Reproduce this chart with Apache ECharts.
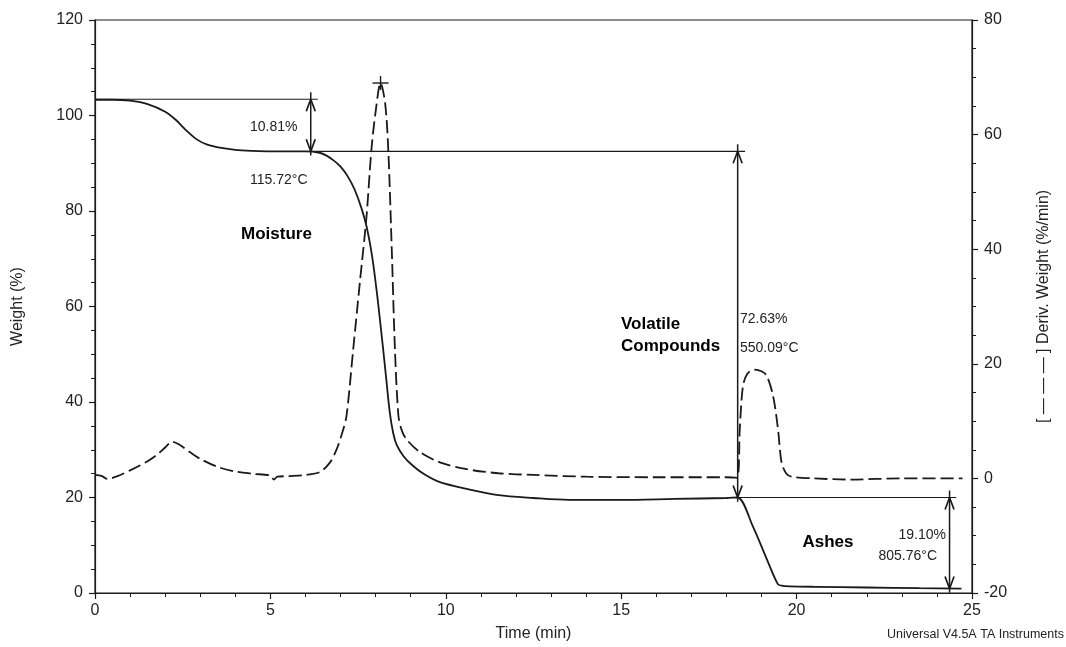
<!DOCTYPE html>
<html>
<head>
<meta charset="utf-8">
<script src="https://cdn.jsdelivr.net/npm/echarts@6/dist/echarts.min.js"></script>
<style>
html,body{margin:0;padding:0;background:#fff;}
#chart{width:1066px;height:647px;}
</style>
</head>
<body>
<div id="chart"></div>
<script>
// ---- data ----
const weightTime = [0, 0.5, 1.0, 1.5, 2.0, 2.3, 2.6, 2.9, 3.2, 3.6, 4.0, 4.5, 5.0, 5.5, 6.0, 6.4, 6.6, 6.8, 7.0, 7.2, 7.4, 7.6, 7.75, 7.9, 8.05, 8.2, 8.3, 8.4, 8.5, 8.6, 8.8, 9.07, 9.4, 9.83, 10.6, 11.5, 12.5, 13.5, 15.0, 16.5, 18.0, 18.32, 18.75, 19.15, 19.47, 19.6, 19.8, 20.5, 22.0, 23.5, 24.7];
const weightValues = [103.3, 103.3, 103.1, 102.4, 100.8, 99.1, 96.9, 95.0, 93.9, 93.2, 92.8, 92.6, 92.5, 92.5, 92.5, 92.2, 91.6, 90.6, 89.3, 87.3, 84.5, 80.5, 76.5, 70.5, 62.0, 52.0, 45.0, 38.0, 33.5, 31.0, 28.6, 26.6, 24.8, 23.2, 21.8, 20.5, 19.9, 19.5, 19.5, 19.7, 19.9, 20.0, 14.0, 7.1, 1.8, 1.5, 1.4, 1.3, 1.15, 1.0, 0.9];

const derivTime = [0, 0.2, 0.35, 0.6, 1.0, 1.5, 1.8, 2.0, 2.2, 2.4, 2.7, 3.0, 3.5, 4.0, 4.5, 5.0, 5.1, 5.2, 5.5, 6.0, 6.41, 6.7, 6.89, 7.05, 7.17, 7.36, 7.55, 7.74, 7.88, 8.0, 8.14, 8.27, 8.36, 8.46, 8.55, 8.65, 8.75, 8.88, 9.26, 9.83, 10.6, 11.5, 12.5, 14, 16, 18.0, 18.3, 18.38, 18.47, 18.6, 18.8, 19.0, 19.15, 19.33, 19.47, 19.57, 19.7, 19.85, 20.5, 21.5, 23, 24.73];
const derivValues = [0.6, 0.4, -0.1, 0.3, 1.4, 3.0, 4.3, 5.4, 6.4, 5.9, 4.6, 3.4, 2.0, 1.2, 0.8, 0.5, -0.2, 0.3, 0.4, 0.6, 1.1, 2.8, 5.1, 8.0, 10.9, 22.5, 34.2, 45.7, 57.4, 64.0, 69.0, 65.5, 57.4, 39.9, 22.5, 10.9, 8.3, 6.8, 4.6, 2.8, 1.6, 0.9, 0.6, 0.3, 0.2, 0.2, 0.1, 8.6, 16.1, 18.3, 19.0, 18.7, 17.9, 14.4, 8.6, 2.8, 0.9, 0.3, 0.0, -0.2, 0.0, 0.0];

// step annotations
const stepTimes = [6.15, 18.32, 24.36];
const stepUpper = [103.4, 92.5, 20.0];
const stepLower = [92.5, 20.0, 0.95];
const levelStart = [0, 6.15, 18.32];
const levelEnd = [6.35, 18.53, 24.55];
const peakMarker = [8.14, 69.0];

const xTicks = {min: 0, max: 25, interval: 5};
const leftTicks = {min: 0, max: 120, interval: 20};
const rightTicks = {min: -20, max: 80, interval: 20};

const FONT = '"Liberation Sans", Arial, sans-serif';
const INK = '#1a1a1a';
const TXT = '#222';

const weightData = weightTime.map((t, i) => [t, weightValues[i]]);
const derivData = derivTime.map((t, i) => [t, derivValues[i]]);
const stepData = stepTimes.map((t, i) => [t, stepUpper[i], stepLower[i], levelStart[i], levelEnd[i]]);

function seg(x1, y1, x2, y2, w) {
  return {type: 'line', shape: {x1, y1, x2, y2}, style: {stroke: INK, lineWidth: w || 1.3}, silent: true};
}

function renderStep(params, api) {
  const t = api.value(0), up = api.value(1), lo = api.value(2), s = api.value(3), e = api.value(4);
  const pTop = api.coord([t, up]);
  const pBot = api.coord([t, lo]);
  const pStart = api.coord([s, up]);
  const pEnd = api.coord([e, up]);
  const ext = 7;
  const ah = 12, aw = 4.5;
  return {
    type: 'group',
    children: [
      seg(pStart[0], pStart[1], pEnd[0], pEnd[1], 1.2),
      seg(pTop[0], pTop[1] - ext, pBot[0], pBot[1] + ext * 0.6, 1.5),
      seg(pTop[0], pTop[1], pTop[0] - aw, pTop[1] + ah, 1.7),
      seg(pTop[0], pTop[1], pTop[0] + aw, pTop[1] + ah, 1.7),
      seg(pBot[0], pBot[1], pBot[0] - aw, pBot[1] - ah, 1.7),
      seg(pBot[0], pBot[1], pBot[0] + aw, pBot[1] - ah, 1.7)
    ]
  };
}

function renderStar(params, api) {
  const p = api.coord([api.value(0), api.value(1)]);
  return {
    type: 'group',
    children: [
      seg(p[0] - 8, p[1], p[0] + 8, p[1], 1.4),
      seg(p[0], p[1] - 7, p[0], p[1] + 7, 1.4)
    ]
  };
}

const chart = echarts.init(document.getElementById('chart'), null, {renderer: 'canvas'});

const axisLine = {show: true, lineStyle: {color: INK, width: 1.2}};
const axisTick = {show: true, inside: false, length: 6, lineStyle: {color: INK, width: 1.2}};
const minorTick = {show: true, length: 4, lineStyle: {color: INK, width: 1}};
const axisLabel = {color: TXT, fontSize: 16, fontFamily: FONT, margin: 12};

chart.setOption({
  backgroundColor: '#fff',
  animation: false,
  grid: {left: 95, right: 94, top: 20, bottom: 53, show: true, borderColor: INK, borderWidth: 1.2, backgroundColor: 'transparent'},
  xAxis: {
    type: 'value', min: xTicks.min, max: xTicks.max, interval: xTicks.interval,
    name: 'Time (min)', nameLocation: 'middle', nameGap: 33,
    nameTextStyle: {color: TXT, fontSize: 16, fontFamily: FONT},
    axisLine, axisTick, minorTick: Object.assign({splitNumber: 5}, minorTick),
    axisLabel: Object.assign({}, axisLabel, {margin: 10}),
    splitLine: {show: false}, minorSplitLine: {show: false}
  },
  yAxis: [
    {
      type: 'value', position: 'left', min: leftTicks.min, max: leftTicks.max, interval: leftTicks.interval,
      name: 'Weight (%)', nameLocation: 'middle', nameGap: 69, nameRotate: 90,
      nameTextStyle: {color: TXT, fontSize: 16, fontFamily: FONT},
      axisLine, axisTick, minorTick: Object.assign({splitNumber: 4}, minorTick),
      axisLabel, splitLine: {show: false}, minorSplitLine: {show: false}
    },
    {
      type: 'value', position: 'right', min: rightTicks.min, max: rightTicks.max, interval: rightTicks.interval,
      name: '[ — — — ] Deriv. Weight (%/min)', nameLocation: 'middle', nameGap: 64, nameRotate: 90,
      nameTextStyle: {color: TXT, fontSize: 16, fontFamily: FONT},
      axisLine, axisTick, minorTick: Object.assign({splitNumber: 4}, minorTick),
      axisLabel, splitLine: {show: false}, minorSplitLine: {show: false}
    }
  ],
  series: [
    {
      type: 'line', name: 'Weight', yAxisIndex: 0, data: weightData, showSymbol: false, smooth: 0.3,
      lineStyle: {color: INK, width: 1.8}, z: 3
    },
    {
      type: 'line', name: 'Deriv. Weight', yAxisIndex: 1, data: derivData, showSymbol: false, smooth: 0.3,
      lineStyle: {color: INK, width: 1.8, type: [13, 5]}, z: 3
    },
    {
      type: 'custom', name: 'steps', yAxisIndex: 0, data: stepData, renderItem: renderStep, z: 4, silent: true,
      encode: {x: 0, y: 1}
    },
    {
      type: 'custom', name: 'peak', yAxisIndex: 1, data: [peakMarker], renderItem: renderStar, z: 4, silent: true,
      encode: {x: 0, y: 1}
    }
  ],
  graphic: [
    {type: 'text', silent: true, style: {text: '10.81%', x: 250, y: 127, textAlign: 'left', textVerticalAlign: 'middle', fill: TXT, font: '14px ' + FONT}},
    {type: 'text', silent: true, style: {text: '115.72°C', x: 250, y: 180, textAlign: 'left', textVerticalAlign: 'middle', fill: TXT, font: '14px ' + FONT}},
    {type: 'text', silent: true, style: {text: 'Moisture', x: 241, y: 234, textAlign: 'left', textVerticalAlign: 'middle', fill: '#000', font: 'bold 17px ' + FONT}},
    {type: 'text', silent: true, style: {text: 'Volatile', x: 621, y: 324, textAlign: 'left', textVerticalAlign: 'middle', fill: '#000', font: 'bold 17px ' + FONT}},
    {type: 'text', silent: true, style: {text: 'Compounds', x: 621, y: 346, textAlign: 'left', textVerticalAlign: 'middle', fill: '#000', font: 'bold 17px ' + FONT}},
    {type: 'text', silent: true, style: {text: '72.63%', x: 740, y: 319, textAlign: 'left', textVerticalAlign: 'middle', fill: TXT, font: '14px ' + FONT}},
    {type: 'text', silent: true, style: {text: '550.09°C', x: 740, y: 348, textAlign: 'left', textVerticalAlign: 'middle', fill: TXT, font: '14px ' + FONT}},
    {type: 'text', silent: true, style: {text: 'Ashes', x: 828, y: 542, textAlign: 'center', textVerticalAlign: 'middle', fill: '#000', font: 'bold 17px ' + FONT}},
    {type: 'text', silent: true, style: {text: '19.10%', x: 946, y: 535, textAlign: 'right', textVerticalAlign: 'middle', fill: TXT, font: '14px ' + FONT}},
    {type: 'text', silent: true, style: {text: '805.76°C', x: 937, y: 556, textAlign: 'right', textVerticalAlign: 'middle', fill: TXT, font: '14px ' + FONT}},
    {type: 'text', silent: true, style: {text: 'Universal V4.5A TA Instruments', x: 1064, y: 635, textAlign: 'right', textVerticalAlign: 'middle', fill: TXT, font: '12.5px ' + FONT}}
  ]
});
</script>
</body>
</html>
